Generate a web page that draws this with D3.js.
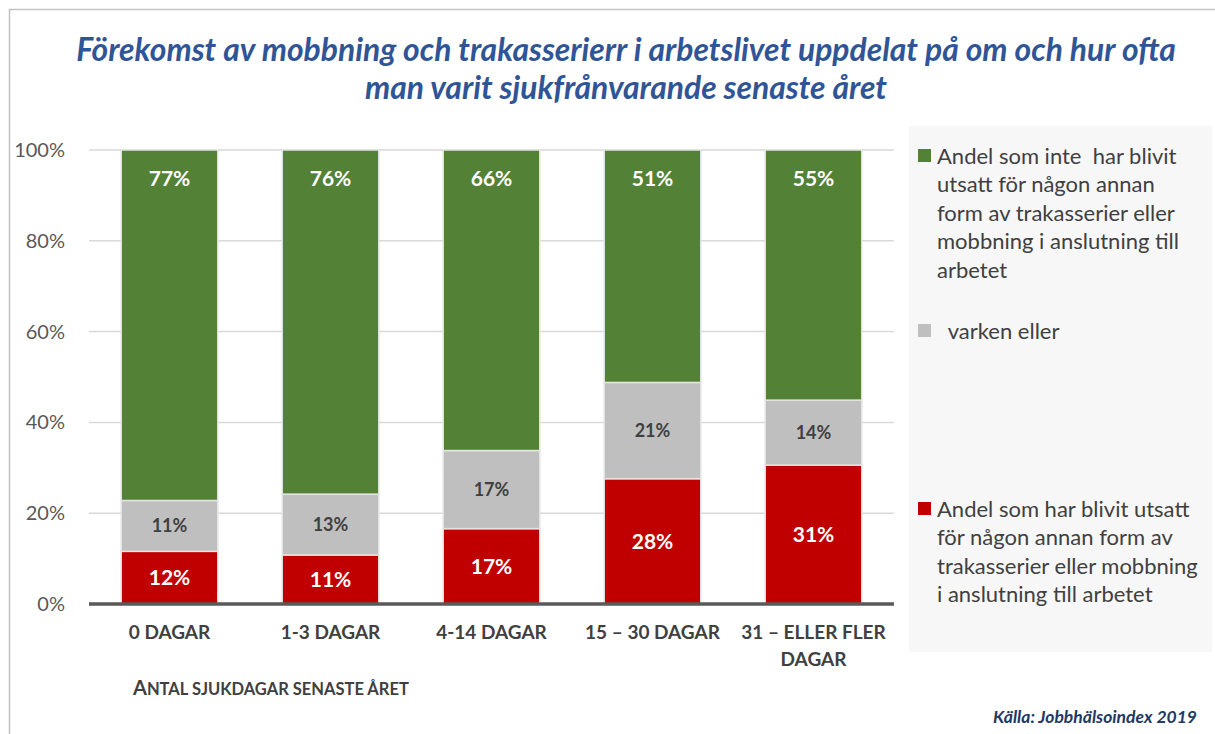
<!DOCTYPE html>
<html><head><meta charset="utf-8">
<script src="https://cdn.jsdelivr.net/npm/d3@7"></script>
<style>body{margin:0;background:#fff}svg{display:block}</style>
</head><body>
<svg id="c" width="1215" height="734"></svg>
<script>
// ---- data ----
const categories = ["0 DAGAR", "1-3 DAGAR", "4-14 DAGAR", "15 – 30 DAGAR", "31 – ELLER FLER DAGAR"];
const redValues   = [11.6, 10.8, 16.6, 27.6, 30.6];
const grayValues  = [11.2, 13.4, 17.2, 21.2, 14.3];
const greenValues = [77.2, 75.8, 66.2, 51.2, 55.1];
const yTicks = [0, 20, 40, 60, 80, 100];
const seriesKeys = ["red", "gray", "green"];
const legendGreen = ["Andel som inte  har blivit", "utsatt för någon annan", "form av trakasserier eller", "mobbning i anslutning till", "arbetet"];
const legendGray = ["  varken eller"];
const legendRed = ["Andel som har blivit utsatt", "för någon annan form av", "trakasserier eller mobbning", "i anslutning till arbetet"];
const titleLines = ["Förekomst av mobbning och trakasserierr i arbetslivet uppdelat på om och hur ofta", "man varit sjukfrånvarande senaste året"];
const xTitle = "Antal sjukdagar senaste året";
const sourceText = "Källa: Jobbhälsoindex 2019";

const colors = {red: "#c00000", gray: "#bfbfbf", green: "#538135"};
const labelColors = {red: "#ffffff", gray: "#404040", green: "#ffffff"};
const FONT = "Lato, 'Open Sans', sans-serif";

const rows = categories.map((c, i) => ({cat: c, red: redValues[i], gray: grayValues[i], green: greenValues[i]}));
const stacked = d3.stack().keys(seriesKeys)(rows);

const svg = d3.select("#c").style("font-family", FONT);

// frame
svg.append("rect").attr("x", 9.5).attr("y", 9.5).attr("width", 1230).attr("height", 740)
  .attr("fill", "none").attr("stroke", "#c3c3c3").attr("stroke-width", 1.5);

// title
const title = svg.append("g");
titleLines.forEach((t, i) => {
  title.append("text").attr("x", 626).attr("y", 61 + i * 38)
    .attr("text-anchor", "middle").attr("fill", "#2f5597")
    .attr("font-size", 26).attr("font-weight", "bold").attr("font-style", "italic").text(t);
});
const t0 = title.select("text").node();
const w0 = t0.getComputedTextLength();
title.selectAll("text").attr("font-size", 26 * 1100 / w0);

// scales
const x = d3.scaleBand().domain(categories).range([89, 894]).paddingInner(0.4).paddingOuter(0.2);
const y = d3.scaleLinear().domain([0, 100]).range([604, 150]);

// gridlines
svg.append("g").selectAll("line").data(yTicks.filter(d => d > 0)).join("line")
  .attr("x1", 89).attr("x2", 894).attr("y1", d => y(d)).attr("y2", d => y(d))
  .attr("stroke", "#d9d9d9").attr("stroke-width", 1.5);

// y axis
const yAxis = svg.append("g").attr("transform", "translate(89,0)")
  .call(d3.axisLeft(y).tickValues(yTicks).tickFormat(d => d + "%").tickSize(0).tickPadding(24));
yAxis.select(".domain").remove();
yAxis.selectAll("text").attr("font-family", FONT).attr("font-size", 20).attr("fill", "#595959");

// bars
const layers = svg.append("g").selectAll("g").data(stacked).join("g")
  .attr("fill", d => colors[d.key]);
layers.selectAll("rect").data(d => d.map(v => Object.assign(v, {key: d.key}))).join("rect")
  .attr("x", d => x(d.data.cat)).attr("width", x.bandwidth())
  .attr("y", d => y(d[1])).attr("height", d => y(d[0]) - y(d[1]))
  .attr("stroke", "#e4e4e4").attr("stroke-width", 1.5);

// data labels (green: inside end, others: centered)
layers.selectAll("text").data(d => d).join("text")
  .attr("x", d => x(d.data.cat) + x.bandwidth() / 2)
  .attr("y", d => d.key === "green" ? y(d[1]) + 28 : (y(d[0]) + y(d[1])) / 2)
  .attr("dy", "0.36em")
  .attr("text-anchor", "middle")
  .attr("font-weight", "bold")
  .attr("font-size", d => d.key === "gray" ? 18 : 21)
  .attr("fill", d => labelColors[d.key])
  .text(d => Math.round(d[1] - d[0]) + "%");

// baseline
svg.append("line").attr("x1", 89).attr("x2", 894).attr("y1", y(0)).attr("y2", y(0))
  .attr("stroke", "#595959").attr("stroke-width", 3.5);

// x axis labels
const xAxis = svg.append("g").attr("transform", `translate(0,${y(0)})`)
  .call(d3.axisBottom(x).tickSize(0).tickPadding(0));
xAxis.select(".domain").remove();
xAxis.selectAll("text").each(function(d) {
  const el = d3.select(this).text(null).attr("y", 0).attr("dy", null)
    .attr("font-family", FONT).attr("font-size", 19).attr("font-weight", "bold").attr("fill", "#404040");
  const words = d.split(" ");
  const lines = [];
  let cur = "";
  words.forEach(w => {
    const test = cur ? cur + " " + w : w;
    if (test.length > 15 && cur) { lines.push(cur); cur = w; } else cur = test;
  });
  lines.push(cur);
  lines.forEach((l, i) => el.append("tspan").attr("x", 0).attr("y", 35 + i * 27).text(l));
});

// x axis title (small caps style)
const xt = svg.append("text").attr("x", 133).attr("y", 695)
  .attr("font-weight", "bold").attr("fill", "#404040");
xt.append("tspan").attr("font-size", 20).text(xTitle[0].toUpperCase());
xt.append("tspan").attr("font-size", 16.5).text(xTitle.slice(1).toUpperCase());

// legend panel
svg.append("rect").attr("x", 909).attr("y", 126).attr("width", 303).attr("height", 526).attr("fill", "#f7f7f7");
const legendItems = [
  {key: "green", lines: legendGreen, y0: 156},
  {key: "gray", lines: legendGray, y0: 331},
  {key: "red", lines: legendRed, y0: 509}
];
const lg = svg.append("g");
legendItems.forEach(it => {
  lg.append("rect").attr("x", 918).attr("y", it.y0 - 7).attr("width", 13).attr("height", 13)
    .attr("fill", colors[it.key]);
  const t = lg.append("text").attr("font-size", 22).attr("fill", "#404040").attr("xml:space", "preserve");
  it.lines.forEach((l, i) => t.append("tspan").attr("x", 937).attr("y", it.y0 + i * 28.5).attr("dy", "0.35em").text(l));
});

// source
svg.append("text").attr("x", 1197).attr("y", 723).attr("text-anchor", "end")
  .attr("font-size", 17.5).attr("font-weight", "bold").attr("font-style", "italic").attr("fill", "#1f3864")
  .text(sourceText);
</script>
</body></html>
